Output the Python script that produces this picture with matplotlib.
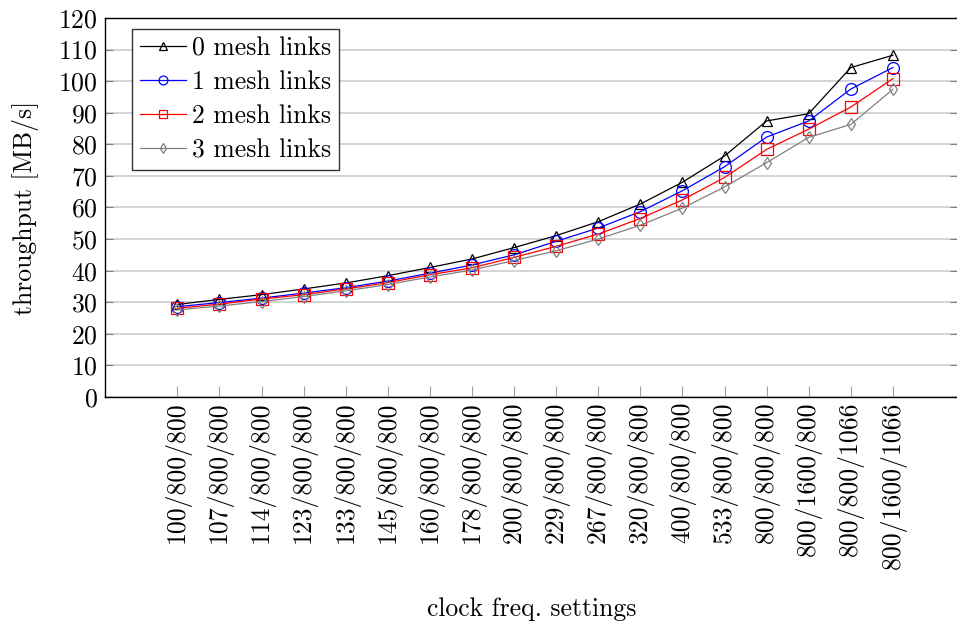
import matplotlib.pyplot as plt

plt.rcParams['font.family'] = 'cmr10'
plt.rcParams['axes.formatter.use_mathtext'] = True

# Taktfrequenz-Einstellungen und gemessener Durchsatz in MB/s
settings = ['100/800/800', '107/800/800', '114/800/800', '123/800/800',
            '133/800/800', '145/800/800', '160/800/800', '178/800/800',
            '200/800/800', '229/800/800', '267/800/800', '320/800/800',
            '400/800/800', '533/800/800', '800/800/800', '800/1600/800',
            '800/800/1066', '800/1600/1066']
links0 = [29.3, 30.9, 32.4, 34.2, 36.1, 38.4, 41.0, 43.7, 47.3, 51.1,
          55.5, 61.1, 68.0, 76.3, 87.4, 89.7, 104.3, 108.2]
links1 = [28.6, 29.9, 31.3, 32.9, 34.6, 36.7, 39.2, 41.8, 45.0, 49.3,
          53.5, 58.7, 65.3, 72.9, 82.3, 87.4, 97.5, 104.3]
links2 = [28.1, 29.4, 31.0, 32.4, 34.2, 36.2, 38.7, 40.9, 44.2, 47.7,
          51.6, 56.5, 62.4, 69.5, 78.4, 84.8, 91.8, 100.8]
links3 = [27.6, 28.8, 30.2, 31.8, 33.6, 35.6, 38.0, 40.2, 43.2, 46.3,
          50.0, 54.4, 59.8, 66.5, 74.2, 82.2, 86.3, 97.4]

FS = 18.5

fig = plt.figure(figsize=(9.57, 6.24), dpi=100)
ax = fig.add_axes([0.1097, 0.3638, 0.8915, 0.6074])

x = list(range(len(settings)))
series = [
    (links0, 'black', '^', 7.5, '0 mesh links'),
    (links1, 'blue', 'o', 8.5, '1 mesh links'),
    (links2, 'red', 's', 8, '2 mesh links'),
    (links3, '#808080', 'd', 6.5, '3 mesh links'),
]
for vals, col, mk, ms, lab in series:
    ax.plot(x, vals, color=col, lw=0.9, marker=mk, ms=ms,
            mfc='none', mec=col, mew=0.9, label=lab, zorder=3)

ax.set_xlim(-1.72, 18.55)
ax.set_ylim(0, 120)
ax.set_yticks(range(0, 121, 10))
ax.set_xticks(x)
ax.set_xticklabels(settings, rotation=90, fontsize=FS)
ax.tick_params(axis='y', labelsize=FS, direction='in', length=6,
               right=True, color='#808080', pad=5)
ax.tick_params(axis='x', direction='in', length=8, color='#a0a0a0', pad=3)
ax.grid(axis='y', color='#c8c8c8', lw=1.1, zorder=0)
for s in ax.spines.values():
    s.set_linewidth(1.0)

ax.set_ylabel('throughput [MB/s]', fontsize=FS, labelpad=14)
ax.set_xlabel('clock freq. settings', fontsize=FS, labelpad=21)

leg = ax.legend(loc='upper left', bbox_to_anchor=(0.0317, 0.971), fontsize=FS,
                frameon=True, fancybox=False, edgecolor='#333333',
                markerscale=0.75, handlelength=1.8, handletextpad=0.25,
                borderpad=0.3, labelspacing=0.4, borderaxespad=0)
leg.get_frame().set_linewidth(1.0)
leg.get_frame().set_alpha(1)

fig.savefig('out.png', dpi=100)
